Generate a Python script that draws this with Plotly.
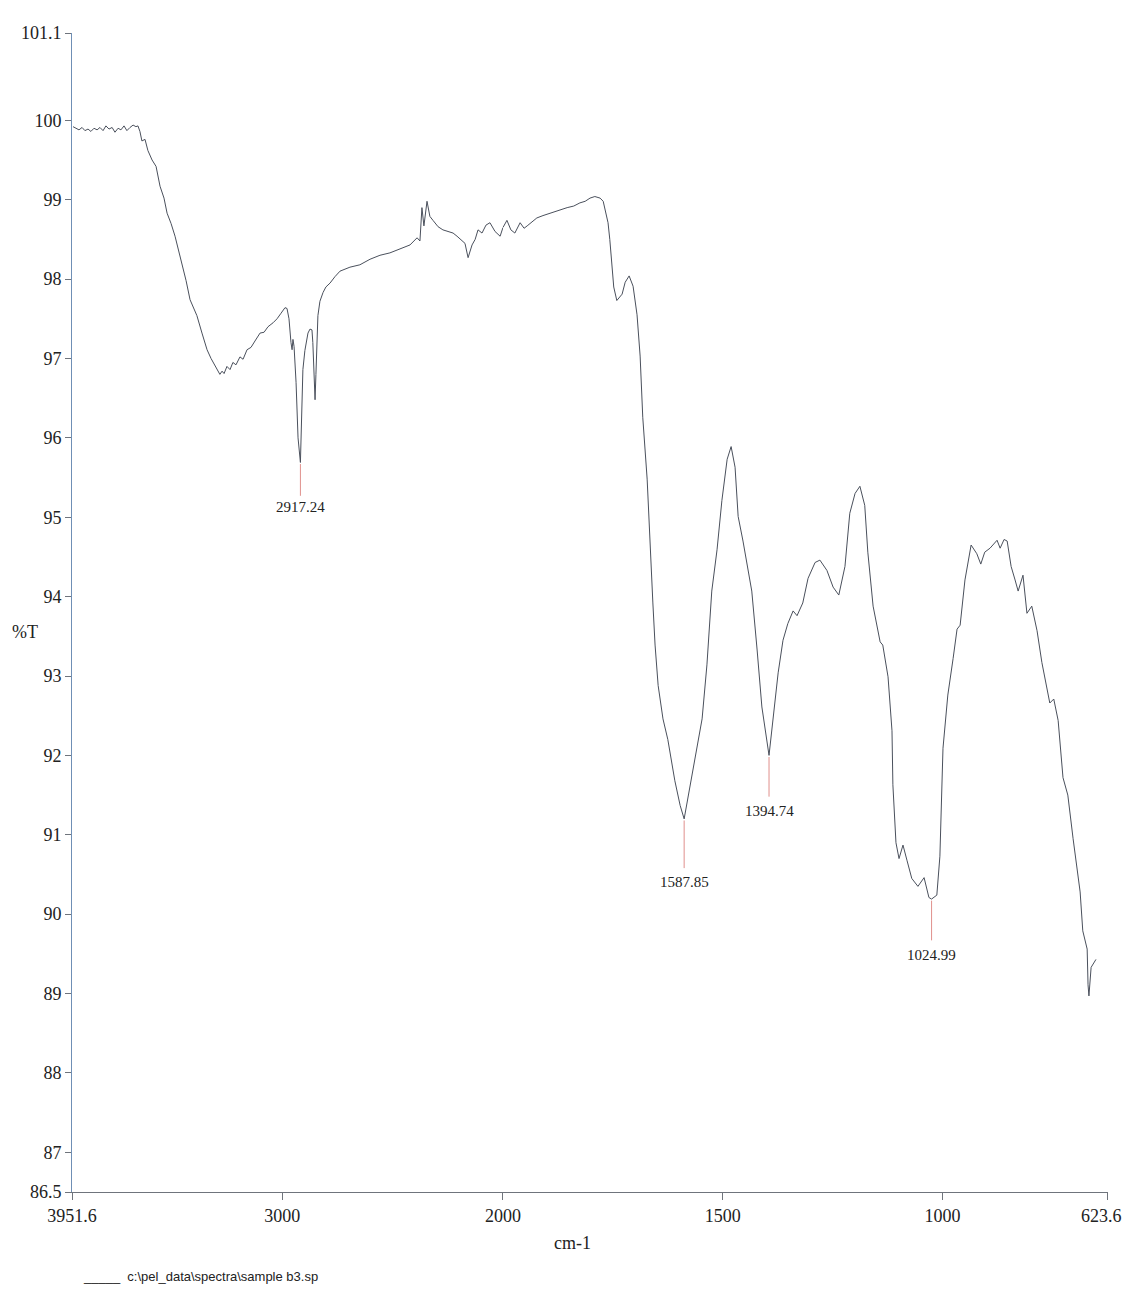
import plotly.graph_objects as go

# ---------------- data ----------------
wavenumber = [
    3947, 3934, 3920, 3906, 3893, 3879, 3866, 3852, 3838, 3825, 3811, 3798, 3784, 3770,
    3757, 3743, 3730, 3716, 3703, 3689, 3675, 3662, 3653, 3644, 3635, 3621, 3608, 3589,
    3571, 3553, 3535, 3521, 3503, 3485, 3472, 3453, 3435, 3417, 3399, 3386, 3363, 3340,
    3322, 3304, 3291, 3282, 3272, 3263, 3250, 3236, 3223, 3209, 3191, 3177, 3159, 3141,
    3123, 3100, 3082, 3064, 3041, 3023, 3005, 2987, 2978, 2969, 2960, 2955, 2951, 2946,
    2937, 2928, 2917.24, 2915, 2910, 2906, 2897, 2883, 2874, 2865, 2861, 2856, 2851, 2847,
    2842, 2838, 2829, 2815, 2802, 2783, 2761, 2738, 2693, 2648, 2602, 2557, 2512, 2466,
    2421, 2389, 2376, 2367, 2358, 2344, 2331, 2317, 2294, 2272, 2249, 2226, 2208, 2186,
    2172, 2158, 2140, 2126, 2113, 2095, 2077, 2059, 2036, 2013, 2000,
    1991, 1982, 1973, 1961, 1952, 1945, 1934, 1923, 1909, 1893, 1875, 1854, 1839, 1825,
    1813, 1802, 1791, 1779, 1772, 1766, 1761, 1757, 1752, 1748, 1741, 1729, 1722, 1713,
    1704, 1695, 1688, 1682, 1672, 1666, 1659, 1654, 1647, 1636, 1625, 1609, 1597, 1587.85,
    1579, 1563, 1547, 1536, 1525, 1513, 1502, 1490, 1481, 1472, 1465, 1454, 1434, 1422,
    1411, 1394.74, 1386, 1374, 1363, 1352, 1340, 1331, 1318, 1306, 1290, 1279, 1263, 1249,
    1236, 1222, 1211, 1199, 1188, 1177, 1170, 1158, 1142, 1136, 1124, 1115, 1113, 1106,
    1099, 1090, 1081, 1070, 1056, 1042, 1031, 1024.99, 1013, 1006, 999, 988, 976, 967,
    960, 949, 935, 922, 913, 904, 892, 876, 869, 860, 853, 844, 835, 828, 817, 808, 797,
    785, 774, 762, 756, 747, 737, 726, 715, 703, 687, 681, 671, 669, 667, 662, 658, 651,
]
transmittance = [
    99.92, 99.90, 99.88, 99.91, 99.87, 99.89, 99.86, 99.90, 99.88, 99.91, 99.87, 99.93, 99.89, 99.91,
    99.85, 99.90, 99.88, 99.93, 99.87, 99.91, 99.94, 99.92, 99.93, 99.86, 99.74, 99.76, 99.62, 99.50,
    99.42, 99.17, 99.02, 98.83, 98.70, 98.54, 98.40, 98.17, 97.98, 97.74, 97.62, 97.54, 97.32, 97.11,
    97.00, 96.91, 96.84, 96.80, 96.84, 96.81, 96.90, 96.86, 96.95, 96.92, 97.02, 96.99, 97.11, 97.14,
    97.22, 97.32, 97.33, 97.40, 97.45, 97.50, 97.57, 97.64, 97.63, 97.50, 97.20, 97.11, 97.24, 97.15,
    96.70, 96.00, 95.69, 95.90, 96.40, 96.86, 97.10, 97.32, 97.37, 97.36, 97.20, 96.80, 96.48, 96.80,
    97.30, 97.54, 97.72, 97.83, 97.90, 97.95, 98.03, 98.10, 98.15, 98.18, 98.25, 98.30, 98.33, 98.38,
    98.43, 98.52, 98.48, 98.90, 98.67, 98.98, 98.79, 98.74, 98.66, 98.62, 98.60, 98.58, 98.54, 98.49,
    98.45, 98.27, 98.43, 98.50, 98.62, 98.58, 98.68, 98.71, 98.60, 98.54, 98.65,
    98.74, 98.62, 98.58, 98.71, 98.64, 98.67, 98.72, 98.77, 98.80, 98.83, 98.86, 98.90, 98.92, 98.96,
    98.98, 99.02, 99.04, 99.02, 98.98, 98.85, 98.71, 98.50, 98.20, 97.90, 97.73, 97.81, 97.96, 98.04,
    97.91, 97.55, 97.03, 96.26, 95.48, 94.70, 93.92, 93.39, 92.88, 92.46, 92.20, 91.68, 91.37, 91.20,
    91.48, 91.95, 92.46, 93.14, 94.07, 94.59, 95.21, 95.73, 95.89, 95.63, 95.01, 94.70, 94.07, 93.34,
    92.61, 92.00, 92.46, 93.04, 93.45, 93.66, 93.82, 93.76, 93.92, 94.23, 94.43, 94.46, 94.33, 94.12,
    94.02, 94.38, 95.05, 95.30, 95.39, 95.15, 94.56, 93.88, 93.43, 93.39, 92.99, 92.31, 91.63, 90.90,
    90.70, 90.87, 90.68, 90.45, 90.35, 90.46, 90.21, 90.19, 90.24, 90.73, 92.09, 92.76, 93.22, 93.59,
    93.64, 94.21, 94.65, 94.54, 94.41, 94.56, 94.61, 94.71, 94.61, 94.72, 94.70, 94.38, 94.21, 94.07, 94.27, 93.79, 93.88,
    93.57, 93.17, 92.80, 92.66, 92.71, 92.44, 91.72, 91.50, 90.95, 90.28, 89.79, 89.56, 89.11, 88.97, 89.33, 89.37, 89.43,
]

peak_wavenumber = [2917.24, 1587.85, 1394.74, 1024.99]
peak_transmittance = [95.69, 91.20, 92.00, 90.19]
peak_labels = ["2917.24", "1587.85", "1394.74", "1024.99"]

y_ticks = [101.1, 100, 99, 98, 97, 96, 95, 94, 93, 92, 91, 90, 89, 88, 87, 86.5]
y_ticktext = ["101.1", "100", "99", "98", "97", "96", "95", "94", "93", "92", "91",
              "90", "89", "88", "87", "86.5"]
x_ticks_high = [3951.6, 3000]
x_ticks_low = [2000, 1500, 1000, 623.6]

x_range_high = [3951.6, 2000]
x_range_low = [2000, 623.6]
y_range = [86.5, 101.1]

# ---------------- styling ----------------
SERIF = "Liberation Serif"
SANS = "Liberation Sans"
CURVE = "#4a505c"
PEAK_LINE = "#e0908c"
SPLIT = 0.416

hi_x = [w for w in wavenumber if w >= 2000]
hi_y = [t for w, t in zip(wavenumber, transmittance) if w >= 2000]
lo_x = [w for w in wavenumber if w <= 2000]
lo_y = [t for w, t in zip(wavenumber, transmittance) if w <= 2000]

fig = go.Figure()
fig.add_trace(go.Scatter(x=hi_x, y=hi_y, mode="lines", xaxis="x", yaxis="y",
                         line=dict(color=CURVE, width=1), hoverinfo="x+y", showlegend=False))
fig.add_trace(go.Scatter(x=lo_x, y=lo_y, mode="lines", xaxis="x2", yaxis="y",
                         line=dict(color=CURVE, width=1), hoverinfo="x+y", showlegend=False))

line_len = [0.42, 0.62, 0.52, 0.52]
label_gap = [0.14, 0.18, 0.18, 0.18]
annotations = []
for w, t, lab, ll, lg in zip(peak_wavenumber, peak_transmittance, peak_labels, line_len, label_gap):
    ax = "x" if w >= 2000 else "x2"
    fig.add_trace(go.Scatter(x=[w, w], y=[t - 0.02, t - ll], mode="lines", xaxis=ax, yaxis="y",
                             line=dict(color=PEAK_LINE, width=1), hoverinfo="skip",
                             showlegend=False))
    annotations.append(dict(x=w, y=t - ll - lg, xref=ax, yref="y", text=lab, showarrow=False,
                            xanchor="center", yanchor="middle",
                            font=dict(family=SERIF, size=15, color="#222222")))

tickfont = dict(family=SERIF, size=18, color="#222222")

# last x tick label drawn as a right-anchored annotation so it stays inside the window
x_low_text = [str(v) for v in x_ticks_low]
end_label = x_low_text[-1]
x_low_text[-1] = ""

annotations += [
    dict(x=-0.045, y=0.483, xref="paper", yref="paper", text="%T", showarrow=False,
         xanchor="center", yanchor="middle", font=dict(family=SERIF, size=18, color="#222222")),
    dict(x=0.483, y=-0.044, xref="paper", yref="paper", text="cm-1", showarrow=False,
         xanchor="center", yanchor="middle", font=dict(family=SERIF, size=18, color="#222222")),
    dict(x=0.009, y=-0.0725, xref="paper", yref="paper",
         text="_____  c:\\pel_data\\spectra\\sample b3.sp", showarrow=False,
         xanchor="left", yanchor="middle", font=dict(family=SANS, size=13, color="#222222")),
    dict(x=x_ticks_low[-1], y=0, xref="x2", yref="paper", text=end_label, showarrow=False,
         xanchor="right", yanchor="middle", xshift=16, yshift=-24, font=tickfont),
]

axis_common = dict(showgrid=False, zeroline=False, showline=True, linecolor="#6f747c",
                   linewidth=1, ticks="outside", ticklen=7, tickcolor="#6f747c",
                   tickfont=tickfont, anchor="y", automargin=False,
                   ticklabeloverflow="allow")

# The page body has an 8px margin, so the figure starts at (8, 8) in the window.
fig.update_layout(
    width=1125, height=1295,
    margin=dict(l=64, r=25, t=25, b=111),
    font=dict(family=SERIF, color="#222222"),
    paper_bgcolor="white", plot_bgcolor="white",
    xaxis=dict(domain=[0, SPLIT], range=x_range_high, tickmode="array",
               tickvals=x_ticks_high, ticktext=[str(v) for v in x_ticks_high], **axis_common),
    xaxis2=dict(domain=[SPLIT, 1], range=x_range_low, tickmode="array",
                tickvals=x_ticks_low, ticktext=x_low_text, **axis_common),
    yaxis=dict(range=y_range, tickmode="array", tickvals=y_ticks, ticktext=y_ticktext,
               showgrid=False, zeroline=False, showline=True, linecolor="#6f8fb5",
               linewidth=1, ticks="outside", ticklen=6, tickcolor="#6f747c",
               tickfont=tickfont, anchor="x", domain=[0, 1], automargin=False),
    annotations=annotations,
    showlegend=False,
)

fig.write_html("out.html")
